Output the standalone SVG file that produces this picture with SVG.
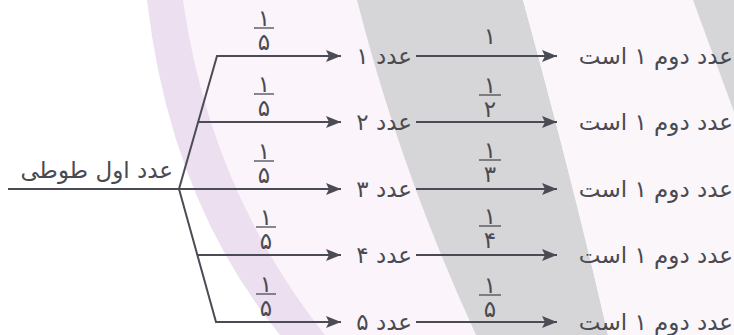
<svg xmlns="http://www.w3.org/2000/svg" width="734" height="335" viewBox="0 0 734 335">
<style>
.ln{stroke:#4b4b55;stroke-width:2;fill:none}
.bar{stroke:#4b4b55;stroke-width:1.3}
.t{font-family:"DejaVu Sans",sans-serif;font-size:23px;fill:#4a4a52}
.f{font-family:"DejaVu Sans",sans-serif;font-size:23px;fill:#4a4a52;text-anchor:middle}
</style>
<defs>
<marker id="ah" markerUnits="userSpaceOnUse" markerWidth="16" markerHeight="14" refX="15" refY="7" orient="auto" viewBox="0 0 16 14">
<path d="M0,1 L15,7 L0,13 L3,7 Z" fill="#4b4b55"/>
</marker>
</defs>
<g id="background">
<rect width="734" height="335" fill="#ffffff"/>
<path d="M183,0 L357,0 Q400,170 476,335 L325,335 Q210,190 183,0 Z" fill="#fbf4fb"/>
<path d="M147,0 L183,0 Q210,190 325,335 L280,335 Q170,200 147,0 Z" fill="#ecdff0"/>
<path d="M357,0 L523,0 Q575,190 608,335 L476,335 Q400,170 357,0 Z" fill="#d6d6d8"/>
<path d="M523,0 L693,0 L734,112 L734,335 L608,335 Q575,190 523,0 Z" fill="#faf6fa"/>
<path d="M693,0 L734,0 L734,112 Z" fill="#d6d6d8"/>
</g>
<g id="connectors">
<line class="ln" x1="8" y1="189" x2="180" y2="189"/>
<polyline class="ln" points="179,189 217,56 341,56" marker-end="url(#ah)"/>
<line class="ln" x1="198" y1="122" x2="341" y2="122" marker-end="url(#ah)"/>
<line class="ln" x1="179" y1="189" x2="341" y2="189" marker-end="url(#ah)"/>
<polyline class="ln" points="179,189 216,322 341,322" marker-end="url(#ah)"/>
<line class="ln" x1="198" y1="255" x2="341" y2="255" marker-end="url(#ah)"/>
<line class="ln" x1="416" y1="56" x2="557" y2="56" marker-end="url(#ah)"/>
<line class="ln" x1="416" y1="122" x2="557" y2="122" marker-end="url(#ah)"/>
<line class="ln" x1="416" y1="189" x2="557" y2="189" marker-end="url(#ah)"/>
<line class="ln" x1="416" y1="255" x2="557" y2="255" marker-end="url(#ah)"/>
<line class="ln" x1="416" y1="322" x2="557" y2="322" marker-end="url(#ah)"/>
</g>
<g id="root"><text class="t" x="173" y="178" text-anchor="end">عدد اول طوطی</text></g>
<g id="p1"><line class="bar" x1="254" y1="28" x2="274" y2="28"/><text class="f"><tspan x="264" y="26">۱</tspan><tspan x="264" y="50">۵</tspan></text></g>
<g id="p2"><line class="bar" x1="254" y1="94" x2="274" y2="94"/><text class="f"><tspan x="264" y="92">۱</tspan><tspan x="264" y="116">۵</tspan></text></g>
<g id="p3"><line class="bar" x1="254" y1="161" x2="274" y2="161"/><text class="f"><tspan x="264" y="159">۱</tspan><tspan x="264" y="183">۵</tspan></text></g>
<g id="p4"><line class="bar" x1="256" y1="227" x2="276" y2="227"/><text class="f"><tspan x="266" y="225">۱</tspan><tspan x="266" y="249">۵</tspan></text></g>
<g id="p5"><line class="bar" x1="256" y1="294" x2="276" y2="294"/><text class="f"><tspan x="266" y="292">۱</tspan><tspan x="266" y="316">۵</tspan></text></g>
<g id="n1"><text class="t" x="412" y="64" text-anchor="end">عدد ۱</text></g>
<g id="n2"><text class="t" x="412" y="130" text-anchor="end">عدد ۲</text></g>
<g id="n3"><text class="t" x="412" y="197" text-anchor="end">عدد ۳</text></g>
<g id="n4"><text class="t" x="412" y="263" text-anchor="end">عدد ۴</text></g>
<g id="n5"><text class="t" x="412" y="330" text-anchor="end">عدد ۵</text></g>
<g id="q1"><text class="f" x="490" y="44">۱</text></g>
<g id="q2"><line class="bar" x1="479" y1="95" x2="501" y2="95"/><text class="f"><tspan x="490" y="93">۱</tspan><tspan x="490" y="117">۲</tspan></text></g>
<g id="q3"><line class="bar" x1="479" y1="160" x2="501" y2="160"/><text class="f"><tspan x="490" y="158">۱</tspan><tspan x="490" y="182">۳</tspan></text></g>
<g id="q4"><line class="bar" x1="479" y1="226" x2="501" y2="226"/><text class="f"><tspan x="490" y="224">۱</tspan><tspan x="490" y="248">۴</tspan></text></g>
<g id="q5"><line class="bar" x1="479" y1="295" x2="501" y2="295"/><text class="f"><tspan x="490" y="293">۱</tspan><tspan x="490" y="317">۵</tspan></text></g>
<g id="r1"><text class="t" x="733" y="64" text-anchor="end">عدد دوم ۱ است</text></g>
<g id="r2"><text class="t" x="733" y="130" text-anchor="end">عدد دوم ۱ است</text></g>
<g id="r3"><text class="t" x="733" y="197" text-anchor="end">عدد دوم ۱ است</text></g>
<g id="r4"><text class="t" x="733" y="263" text-anchor="end">عدد دوم ۱ است</text></g>
<g id="r5"><text class="t" x="733" y="330" text-anchor="end">عدد دوم ۱ است</text></g>
</svg>
